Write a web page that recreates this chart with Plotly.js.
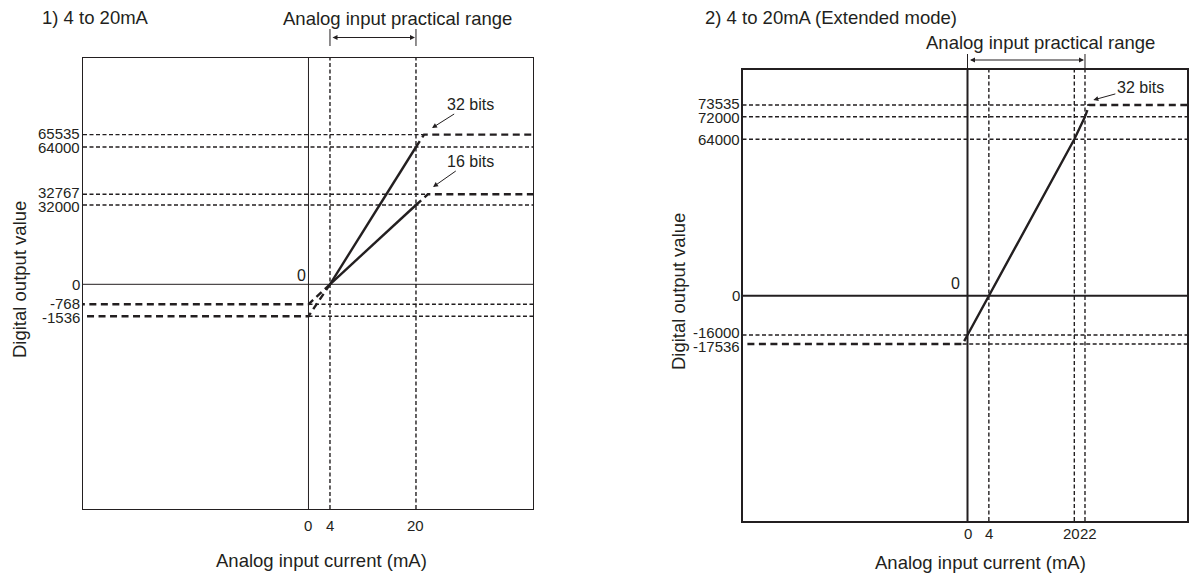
<!DOCTYPE html>
<html>
<head>
<meta charset="utf-8">
<script src="https://cdn.plot.ly/plotly-3.0.1.min.js"></script>
<style>
html,body{margin:0;padding:0;background:#fff;}
#chart{width:1189px;height:574px;}
</style>
</head>
<body>
<div id="chart"></div>
<script>
// ---------- Chart 1: 4 to 20mA ----------
const c1XTicks = [0, 4, 20];
const c1YTicks = [65535, 64000, 32767, 32000, 0, -768, -1536];
const c1YLevels = [149.7, 137.3, 90, 79.3, 0, -20, -32]; // schematic display levels of the ticks
const c1Range = [4, 20];                    // analog input practical range (mA)
const c1Bits32X = [4, 20];  const c1Bits32Y = [0, 64000];
const c1Bits32UpX = [20, 21.5]; const c1Bits32UpY = [64000, 65535];
const c1Bits32DnX = [4, 0];  const c1Bits32DnY = [0, -1536];
const c1Bits16X = [4, 20];  const c1Bits16Y = [0, 32000];
const c1Bits16UpX = [20, 22.2]; const c1Bits16UpY = [32000, 32767];
const c1Bits16DnX = [4, 0];  const c1Bits16DnY = [0, -768];

// ---------- Chart 2: 4 to 20mA (Extended mode) ----------
const c2XTicks = [0, 4, 20, 22];
const c2YTicks = [73535, 72000, 64000, 0, -16000, -17536];
const c2YLevels = [190.7, 179, 156.4, 0, -39.3, -48.3];
const c2Range = [0, 22];
const c2Bits32X = [0, 4, 20, 22]; const c2Bits32Y = [-16000, 0, 64000, 72000];
const c2Bits32UpX = [22, 22.8]; const c2Bits32UpY = [72000, 73535];
const c2Bits32DnX = [0, -0.9]; const c2Bits32DnY = [-16000, -17536];

// ---------- layout constants ----------
const W = 1189, H = 574;
const C1 = {x0: 83, x1: 533, y0: 58, y1: 509, xmin: -41.95, xmax: 41.77, ymin: -224.7, ymax: 226.3};
const C2 = {x0: 742.5, x1: 1187, y0: 70, y1: 521, xmin: -42.13, xmax: 41.1, ymin: -225.3, ymax: 225.7};
const INK = '#231f20';
const FONT = 'Liberation Sans, Arial, Helvetica, sans-serif';
const TICK_SIZE = 15, TITLE_SIZE = 18.5, LABEL_SIZE = 16;

function mapper(vals, levels) {
  const pairs = vals.map((v, i) => [v, levels[i]]).sort((a, b) => a[0] - b[0]);
  return function (v) {
    if (v <= pairs[0][0]) return pairs[0][1];
    for (let i = 1; i < pairs.length; i++) {
      if (v <= pairs[i][0]) {
        const [a, pa] = pairs[i - 1], [b, pb] = pairs[i];
        return pa + (v - a) / (b - a) * (pb - pa);
      }
    }
    return pairs[pairs.length - 1][1];
  };
}
const m1 = mapper(c1YTicks, c1YLevels);
const m2 = mapper(c2YTicks, c2YLevels);

const traces = [];
const shapes = [];
const annotations = [];

function line(xa, ya, xs, ys, width, dash) {
  traces.push({type: 'scatter', mode: 'lines', x: xs, y: ys, xaxis: xa, yaxis: ya,
    line: {color: INK, width: width, dash: dash}, hoverinfo: 'skip', showlegend: false});
}
const THIN = '4px,2.5px', THICK = '7px,4.5px';

// guide lines (thin dashed) -----------------------------------------
function guides(xa, ya, m, C, xTicks, yTicks, satHi, satLo, lw, axisW) {
  xTicks.filter(v => v !== 0).forEach(v => {
    shapes.push({type: 'line', xref: xa, yref: ya + ' domain', x0: v, x1: v, y0: 0, y1: 1,
      line: {color: INK, width: lw, dash: THIN}});
  });
  yTicks.filter(v => v !== 0).forEach(v => {
    let from = C.xmin, to = C.xmax;
    if (satHi[v] !== undefined) to = satHi[v];
    if (satLo[v] !== undefined) from = satLo[v];
    shapes.push({type: 'line', xref: xa, yref: ya, x0: from, x1: to, y0: m(v), y1: m(v),
      line: {color: INK, width: lw, dash: THIN}});
  });
  shapes.push({type: 'line', xref: xa, yref: ya + ' domain', x0: 0, x1: 0, y0: 0, y1: 1, line: {color: INK, width: axisW}});
  shapes.push({type: 'line', xref: xa + ' domain', yref: ya, x0: 0, x1: 1, y0: 0, y1: 0, line: {color: INK, width: axisW}});
}

const c1SatHi = {}; c1SatHi[c1Bits32UpY[1]] = c1Bits32UpX[1]; c1SatHi[c1Bits16UpY[1]] = c1Bits16UpX[1];
const c1SatLo = {}; c1SatLo[c1Bits32DnY[1]] = c1Bits32DnX[1]; c1SatLo[c1Bits16DnY[1]] = c1Bits16DnX[1];
guides('x', 'y', m1, C1, c1XTicks, c1YTicks, c1SatHi, c1SatLo, 1.4, 1);
const c2SatHi = {}; c2SatHi[c2Bits32UpY[1]] = c2Bits32UpX[1];
const c2SatLo = {}; c2SatLo[c2Bits32DnY[1]] = c2Bits32DnX[1];
guides('x2', 'y2', m2, C2, c2XTicks, c2YTicks, c2SatHi, c2SatLo, 1.4, 2);

// characteristic lines -----------------------------------------------
line('x', 'y', c1Bits32X, c1Bits32Y.map(m1), 2.4, 'solid');
line('x', 'y', c1Bits32UpX.concat([C1.xmax]), c1Bits32UpY.concat([c1Bits32UpY[1]]).map(m1), 2.4, THICK);
line('x', 'y', c1Bits32DnX.concat([C1.xmin]), c1Bits32DnY.concat([c1Bits32DnY[1]]).map(m1), 2.4, THICK);
line('x', 'y', c1Bits16X, c1Bits16Y.map(m1), 2.4, 'solid');
line('x', 'y', c1Bits16UpX.concat([C1.xmax]), c1Bits16UpY.concat([c1Bits16UpY[1]]).map(m1), 2.4, THICK);
line('x', 'y', c1Bits16DnX.concat([C1.xmin]), c1Bits16DnY.concat([c1Bits16DnY[1]]).map(m1), 2.4, THICK);

line('x2', 'y2', c2Bits32X, c2Bits32Y.map(m2), 2.4, 'solid');
line('x2', 'y2', c2Bits32UpX.concat([C2.xmax]), c2Bits32UpY.concat([c2Bits32UpY[1]]).map(m2), 2.4, THICK);
line('x2', 'y2', c2Bits32DnX.concat([C2.xmin]), c2Bits32DnY.concat([c2Bits32DnY[1]]).map(m2), 2.4, THICK);

// practical range markers --------------------------------------------
function rangeMarker(xa, range, yTextPx, yArrowPx, tickTopPx, tickBotPx, textX) {
  annotations.push({xref: xa, x: textX, yref: 'paper', y: 1 - yTextPx / H, text: 'Analog input practical range',
    showarrow: false, xanchor: 'center', yanchor: 'middle', font: {size: TITLE_SIZE, color: INK, family: FONT}});
  annotations.push({xref: xa, x: range[1], axref: xa, ax: range[0], yref: 'paper', y: 1 - yArrowPx / H,
    ayref: 'pixel', ay: 0, text: '', showarrow: true, arrowside: 'end+start', arrowhead: 2, arrowsize: 1,
    arrowwidth: 1, arrowcolor: INK, standoff: 1, startstandoff: 1});
  range.forEach(v => shapes.push({type: 'line', xref: xa, yref: 'paper', x0: v, x1: v,
    y0: 1 - tickTopPx / H, y1: 1 - tickBotPx / H, line: {color: INK, width: 1}}));
}
rangeMarker('x', c1Range, 19, 37.5, 29, 46, 16.65);
rangeMarker('x2', c2Range, 43, 60, 54, 70, 13.6);

// headings
annotations.push({xref: 'paper', yref: 'paper', x: 40 / W, y: 1 - 18 / H, xanchor: 'left', yanchor: 'middle',
  text: '1) 4 to 20mA', showarrow: false, font: {size: TITLE_SIZE, color: INK, family: FONT}});
annotations.push({xref: 'paper', yref: 'paper', x: 703 / W, y: 1 - 18 / H, xanchor: 'left', yanchor: 'middle',
  text: '2) 4 to 20mA (Extended mode)', showarrow: false, font: {size: TITLE_SIZE, color: INK, family: FONT}});

// axis titles
function axisTitles(C, xCenterPx, xTitleYPx, yTitleXPx, yCenterPx) {
  annotations.push({xref: 'paper', yref: 'paper', x: xCenterPx / W, y: 1 - xTitleYPx / H, xanchor: 'center', yanchor: 'middle',
    text: 'Analog input current (mA)', showarrow: false, font: {size: TITLE_SIZE, color: INK, family: FONT}});
  annotations.push({xref: 'paper', yref: 'paper', x: yTitleXPx / W, y: 1 - yCenterPx / H, xanchor: 'center', yanchor: 'middle',
    textangle: -90, text: 'Digital output value', showarrow: false, font: {size: TITLE_SIZE, color: INK, family: FONT}});
}
axisTitles(C1, 321, 560, 19, 280);
axisTitles(C2, 980, 562, 678, 292);

// bit labels with arrows
function bitLabel(xa, ya, text, x, y, ax, ay) {
  annotations.push({xref: xa, yref: ya, x: x, y: y, ax: ax, ay: ay, text: text, showarrow: true,
    arrowhead: 2, arrowsize: 1, arrowwidth: 1, arrowcolor: INK, standoff: 0,
    font: {size: LABEL_SIZE, color: INK, family: FONT}});
}
bitLabel('x', 'y', '32 bits', 22.98, 156.3, 38, -24);
bitLabel('x', 'y', '16 bits', 23.17, 97.3, 37, -26);
bitLabel('x2', 'y2', '32 bits', 23.56, 195.7, 47, -13);

// origin "0" labels
annotations.push({xref: 'x', yref: 'y', x: -1.3, y: 8.6, text: '0', showarrow: false, font: {size: LABEL_SIZE, color: INK, family: FONT}});
annotations.push({xref: 'x2', yref: 'y2', x: -2.34, y: 12.4, text: '0', showarrow: false, font: {size: LABEL_SIZE, color: INK, family: FONT}});

// y tick labels: placed on their levels, nudged apart where they crowd
function yTickLabels(ya, C, levels, labels, minGap) {
  const px = levels.map(l => C.y0 + (C.ymax - l) / (C.ymax - C.ymin) * (C.y1 - C.y0));
  const order = levels.map((l, i) => i).sort((a, b) => px[a] - px[b]);
  const pos = px.slice();
  for (let it = 0; it < 30; it++) {
    for (let k = 1; k < order.length; k++) {
      const a = order[k - 1], b = order[k], g = pos[b] - pos[a];
      if (g < minGap) { const d = (minGap - g) / 2; pos[a] -= d; pos[b] += d; }
    }
  }
  levels.forEach((l, i) => annotations.push({xref: 'paper', yref: ya, x: C.x0 / W, xshift: -3, y: l,
    yshift: px[i] - pos[i], xanchor: 'right', yanchor: 'middle', text: String(labels[i]), showarrow: false,
    borderpad: 0, borderwidth: 0, font: {size: TICK_SIZE, color: INK, family: FONT}}));
}
yTickLabels('y', C1, c1YLevels, c1YTicks, 14);
yTickLabels('y2', C2, c2YLevels, c2YTicks, 14);

// x tick labels: neighbours closer than 3 mA are set edge to edge around their midpoint
function xTickLabels(xa, ticks, yPx) {
  ticks.forEach((v, i) => {
    let x = v, anchor = 'center';
    if (i + 1 < ticks.length && ticks[i + 1] - v < 3) { x = (v + ticks[i + 1]) / 2; anchor = 'right'; }
    else if (i > 0 && v - ticks[i - 1] < 3) { x = (v + ticks[i - 1]) / 2; anchor = 'left'; }
    annotations.push({xref: xa, yref: 'paper', x: x, y: 1 - yPx / H, xanchor: anchor, yanchor: 'middle',
      text: String(v), showarrow: false, borderpad: 0, borderwidth: 0,
      font: {size: TICK_SIZE, color: INK, family: FONT}});
  });
}
xTickLabels('x', c1XTicks, 525);
xTickLabels('x2', c2XTicks, 533);

function xAxis(C, lw) {
  return {domain: [C.x0 / W, C.x1 / W], range: [C.xmin, C.xmax], showgrid: false, zeroline: false,
    showline: true, mirror: true, linecolor: INK, linewidth: lw, ticks: '', showticklabels: false,
    fixedrange: true, automargin: false};
}
function yAxis(C, lw) {
  return {domain: [1 - C.y1 / H, 1 - C.y0 / H], range: [C.ymin, C.ymax], showgrid: false, zeroline: false,
    showline: true, mirror: true, linecolor: INK, linewidth: lw, ticks: '', showticklabels: false,
    fixedrange: true, automargin: false};
}

const layout = {
  width: W, height: H, margin: {l: 0, r: 0, t: 0, b: 0}, paper_bgcolor: '#fff', plot_bgcolor: '#fff',
  showlegend: false, font: {family: FONT, color: INK},
  xaxis: Object.assign(xAxis(C1, 1.2), {anchor: 'y'}),
  yaxis: Object.assign(yAxis(C1, 1.2), {anchor: 'x'}),
  xaxis2: Object.assign(xAxis(C2, 2), {anchor: 'y2'}),
  yaxis2: Object.assign(yAxis(C2, 2), {anchor: 'x2'}),
  shapes: shapes, annotations: annotations
};

Plotly.newPlot('chart', traces, layout, {staticPlot: true, displayModeBar: false});
</script>
</body>
</html>
